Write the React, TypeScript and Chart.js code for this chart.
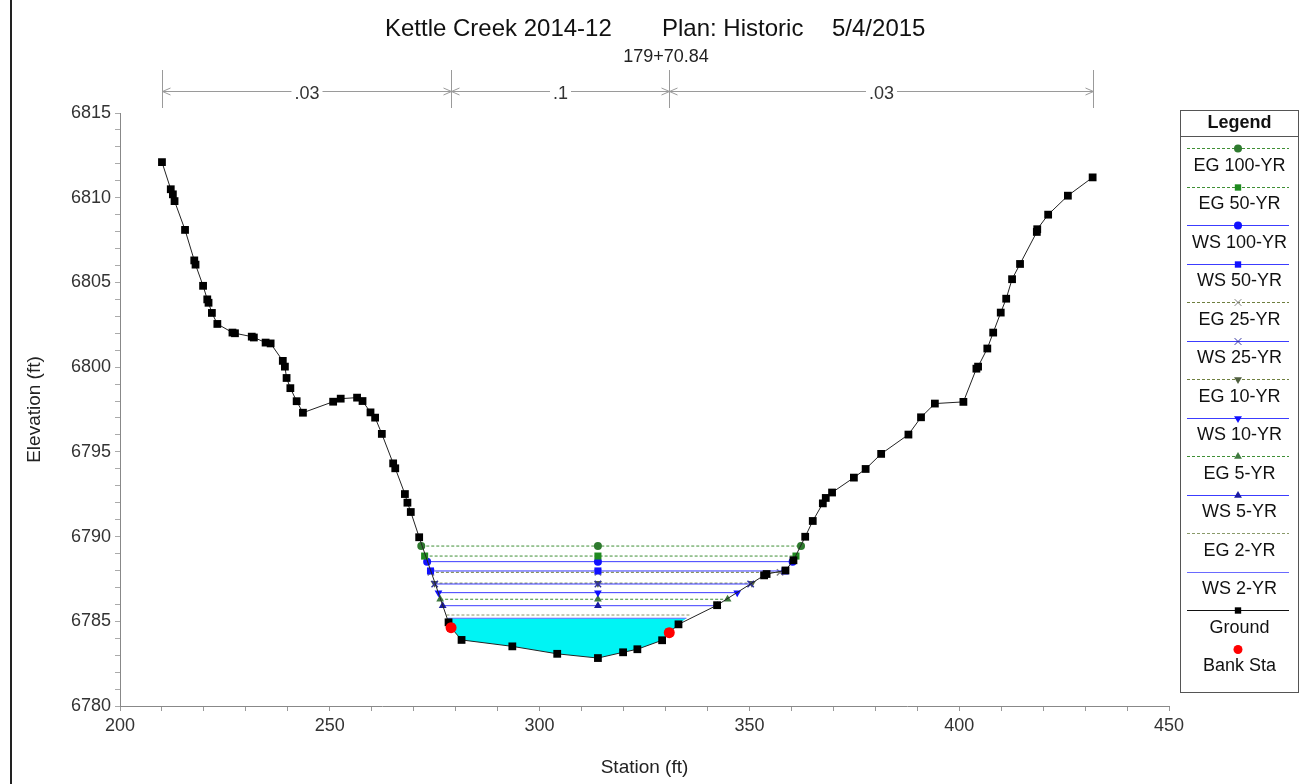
import React, { useEffect, useRef } from 'react';
import { Chart, registerables } from 'chart.js';

Chart.register(...registerables);

// ---------------- DATA ----------------
const groundStation = [
  210.0, 212.1, 212.6, 213.0, 215.5, 217.7, 218.0, 219.8, 220.8, 221.1, 221.9, 223.2,
  226.8, 227.4, 231.4, 231.9, 234.7, 235.9, 238.8, 239.3, 239.7, 240.6, 242.1, 243.6,
  250.8, 252.6, 256.5, 257.8, 259.7, 260.8, 262.4, 265.1, 265.6, 267.9, 268.5, 269.3,
  271.3, 278.3, 278.9, 281.4, 293.5, 304.2, 313.9, 319.9, 323.3, 329.2, 330.9, 333.1,
  342.3, 353.5, 354.1, 358.6, 360.5, 363.3, 365.1, 367.5, 368.2, 369.7, 374.9, 377.7,
  381.4, 387.9, 390.9, 394.2, 401.0, 404.1, 404.5, 406.7, 408.1, 409.9, 411.2, 412.6,
  414.5, 418.5, 418.6, 421.2, 425.9, 431.8,
];
const groundElev = [
  6812.1, 6810.5, 6810.2, 6809.8, 6808.1, 6806.3, 6806.05, 6804.8, 6804.0, 6803.8, 6803.2, 6802.55,
  6802.04, 6802.0, 6801.8, 6801.75, 6801.45, 6801.4, 6800.37, 6800.03, 6799.36, 6798.76, 6797.99, 6797.31,
  6797.96, 6798.14, 6798.2, 6798.0, 6797.33, 6797.02, 6796.06, 6794.32, 6794.03, 6792.51, 6792.0, 6791.45,
  6789.96, 6784.94, 6784.62, 6783.9, 6783.52, 6783.08, 6782.83, 6783.17, 6783.35, 6783.88, 6784.33, 6784.82,
  6785.95, 6787.71, 6787.79, 6788.0, 6788.6, 6789.99, 6790.92, 6791.96, 6792.28, 6792.6, 6793.48, 6793.99,
  6794.88, 6796.02, 6797.04, 6797.85, 6797.95, 6799.91, 6800.03, 6801.1, 6802.04, 6803.22, 6804.04, 6805.19,
  6806.09, 6807.98, 6808.14, 6809.0, 6810.12, 6811.2,
];
const bankStation = [278.9, 330.9];
const bankElev = [6784.62, 6784.33];

const profileNames = [
  'EG 100-YR', 'EG 50-YR', 'WS 100-YR', 'WS 50-YR', 'EG 25-YR', 'WS 25-YR',
  'EG 10-YR', 'WS 10-YR', 'EG 5-YR', 'WS 5-YR', 'EG 2-YR', 'WS 2-YR',
];
const profileElev = [6789.44, 6788.85, 6788.52, 6787.97, 6787.89, 6787.2, 6787.25, 6786.69, 6786.3, 6785.92, 6785.37, 6785.18];
const profileLeft = [271.8, 272.6, 273.2, 274.0, 274.1, 275.0, 274.95, 275.9, 276.3, 276.9, 277.8, 278.2];
const profileRight = [362.3, 361.1, 360.3, 358.5, 357.3, 350.3, 350.6, 347.1, 344.8, 342.4, 336.2, 335.0];
const centerStation = 313.9;

const manningValues = ['.03', '.1', '.03'];
const manningBreaks = [210.0, 278.9, 330.9, 431.8];

const titleParts = ['Kettle Creek 2014-12', 'Plan: Historic', '5/4/2015'];
const riverStationLabel = '179+70.84';
const xAxisTitle = 'Station (ft)';
const yAxisTitle = 'Elevation (ft)';
const legendTitle = 'Legend';

// ---------------- STYLES ----------------
const FONT = '"Liberation Sans", Arial, sans-serif';
const EG_COLOR = '#3f8f35';
const WS_COLOR = '#3c3cff';

type Sty = { dashed: boolean; color: string; marker: string | null; mColor: string; rot: number; r: number };
const profileStyles: Sty[] = [
  { dashed: true, color: EG_COLOR, marker: 'circle', mColor: '#2e7a2e', rot: 0, r: 4 },
  { dashed: true, color: EG_COLOR, marker: 'rect', mColor: '#1f8a1f', rot: 0, r: 5 },
  { dashed: false, color: WS_COLOR, marker: 'circle', mColor: '#1010ff', rot: 0, r: 4 },
  { dashed: false, color: WS_COLOR, marker: 'rect', mColor: '#1010ff', rot: 0, r: 5 },
  { dashed: true, color: '#6f7f3f', marker: 'crossRot', mColor: '#808080', rot: 0, r: 4.5 },
  { dashed: false, color: WS_COLOR, marker: 'crossRot', mColor: '#3030a0', rot: 0, r: 4.5 },
  { dashed: true, color: '#6f7f3f', marker: 'triangle', mColor: '#4f5f3f', rot: 180, r: 4.5 },
  { dashed: false, color: WS_COLOR, marker: 'triangle', mColor: '#1010ff', rot: 180, r: 4.5 },
  { dashed: true, color: EG_COLOR, marker: 'triangle', mColor: '#3f7a3f', rot: 0, r: 4.5 },
  { dashed: false, color: WS_COLOR, marker: 'triangle', mColor: '#1a1aa0', rot: 0, r: 4.5 },
  { dashed: true, color: '#8a9a6a', marker: null, mColor: '#8a9a6a', rot: 0, r: 0 },
  { dashed: false, color: '#6a6aff', marker: null, mColor: '#6a6aff', rot: 0, r: 0 },
];

function drawMarker(ctx: CanvasRenderingContext2D, style: string, x: number, y: number, r: number, color: string, rot: number) {
  ctx.save();
  ctx.fillStyle = color;
  ctx.strokeStyle = color;
  ctx.lineWidth = 1;
  ctx.beginPath();
  if (style === 'circle') {
    ctx.arc(x, y, r, 0, Math.PI * 2);
    ctx.fill();
  } else if (style === 'rect') {
    const s = Math.SQRT1_2 * r;
    ctx.fillRect(x - s, y - s, 2 * s, 2 * s);
  } else if (style === 'crossRot') {
    const s = r * 0.75;
    ctx.moveTo(x - s, y - s); ctx.lineTo(x + s, y + s);
    ctx.moveTo(x + s, y - s); ctx.lineTo(x - s, y + s);
    ctx.stroke();
  } else if (style === 'triangle') {
    const d = rot === 180 ? -1 : 1;
    ctx.moveTo(x, y - d * r);
    ctx.lineTo(x + r * 0.87, y + d * r * 0.5);
    ctx.lineTo(x - r * 0.87, y + d * r * 0.5);
    ctx.closePath();
    ctx.fill();
  }
  ctx.restore();
}

const overlayPlugin = {
  id: 'overlay',
  afterDraw(chart: any) {
    const ctx: CanvasRenderingContext2D = chart.ctx;
    const xs = chart.scales.x;
    const area = chart.chartArea;
    ctx.save();

    // outer frame left edge
    ctx.strokeStyle = '#222';
    ctx.lineWidth = 2;
    ctx.beginPath();
    ctx.moveTo(11, 0);
    ctx.lineTo(11, 784);
    ctx.stroke();

    // title
    ctx.fillStyle = '#111';
    ctx.font = `24px ${FONT}`;
    ctx.textBaseline = 'middle';
    ctx.textAlign = 'left';
    const titleX = [385, 662, 832];
    titleParts.forEach((t, i) => ctx.fillText(t, titleX[i], 29));

    // river station
    ctx.font = `18px ${FONT}`;
    ctx.textAlign = 'center';
    ctx.fillStyle = '#222';
    ctx.fillText(riverStationLabel, 666, 57);

    // Manning's n bar
    const yBar = 91;
    ctx.strokeStyle = '#9a9a9a';
    ctx.lineWidth = 1;
    const px = manningBreaks.map((s) => Math.round(xs.getPixelForValue(s)) + 0.5);
    px.forEach((p) => {
      ctx.beginPath();
      ctx.moveTo(p, 70);
      ctx.lineTo(p, 108);
      ctx.stroke();
    });
    ctx.font = `18px ${FONT}`;
    for (let i = 0; i < manningValues.length; i++) {
      const a = px[i], b = px[i + 1];
      const mid = (a + b) / 2;
      const tw = ctx.measureText(manningValues[i]).width;
      ctx.strokeStyle = '#9a9a9a';
      ctx.beginPath();
      ctx.moveTo(a, yBar + 0.5); ctx.lineTo(mid - tw / 2 - 3, yBar + 0.5);
      ctx.moveTo(mid + tw / 2 + 3, yBar + 0.5); ctx.lineTo(b, yBar + 0.5);
      ctx.moveTo(a + 8, yBar - 3); ctx.lineTo(a, yBar + 0.5); ctx.lineTo(a + 8, yBar + 4);
      ctx.moveTo(b - 8, yBar - 3); ctx.lineTo(b, yBar + 0.5); ctx.lineTo(b - 8, yBar + 4);
      ctx.stroke();
      ctx.fillStyle = '#333';
      ctx.fillText(manningValues[i], mid, yBar + 3);
    }

    // axis titles
    ctx.fillStyle = '#222';
    ctx.font = `19px ${FONT}`;
    ctx.textAlign = 'center';
    ctx.fillText(xAxisTitle, (area.left + area.right) / 2, 768);
    ctx.save();
    ctx.translate(35, (area.top + area.bottom) / 2);
    ctx.rotate(-Math.PI / 2);
    ctx.fillText(yAxisTitle, 0, 0);
    ctx.restore();

    // legend box
    const lx = 1180.5, ly = 110.5, lw = 118, lh = 582;
    ctx.strokeStyle = '#555';
    ctx.lineWidth = 1;
    ctx.strokeRect(lx, ly, lw, lh);
    ctx.beginPath();
    ctx.moveTo(lx, 136.5); ctx.lineTo(lx + lw, 136.5);
    ctx.stroke();
    ctx.fillStyle = '#111';
    ctx.font = `bold 18px ${FONT}`;
    ctx.fillText(legendTitle, lx + lw / 2, 123);

    const entries = profileNames.map((n, i) => ({ name: n, sty: profileStyles[i] }));
    const all: { name: string; sty: Sty; noLine?: boolean }[] = [
      ...entries,
      { name: 'Ground', sty: { dashed: false, color: '#111', marker: 'rect', mColor: '#000', rot: 0, r: 5.5 } },
      { name: 'Bank Sta', sty: { dashed: false, color: '#f00', marker: 'circle', mColor: '#ff0000', rot: 0, r: 5.5 }, noLine: true },
    ];
    const mx = 1238;
    all.forEach((e, i) => {
      const y = 148 + i * 38.5;
      if (!e.noLine) {
        ctx.save();
        ctx.strokeStyle = e.sty.color;
        ctx.lineWidth = 1;
        if (e.sty.dashed) ctx.setLineDash([3, 2]);
        ctx.beginPath();
        ctx.moveTo(1187, Math.round(y) + 0.5);
        ctx.lineTo(1289, Math.round(y) + 0.5);
        ctx.stroke();
        ctx.restore();
      }
      if (e.sty.marker) drawMarker(ctx, e.sty.marker, mx, Math.round(y) + 0.5, Math.min(e.sty.r, 4.5), e.sty.mColor, e.sty.rot);
      ctx.fillStyle = '#111';
      ctx.font = `18px ${FONT}`;
      ctx.textAlign = 'center';
      ctx.fillText(e.name, lx + lw / 2, y + 18);
    });

    ctx.restore();
  },
};

export default function App() {
  const ref = useRef<HTMLCanvasElement | null>(null);

  useEffect(() => {
    if (!ref.current) return;
    const ground = groundStation.map((x, i) => ({ x, y: groundElev[i] }));
    const banks = bankStation.map((x, i) => ({ x, y: bankElev[i] }));

    const wi = profileNames.length - 1;
    const wsEl = profileElev[wi];
    const water = [
      { x: profileLeft[wi], y: wsEl },
      ...ground.filter((p) => p.x > profileLeft[wi] && p.x < profileRight[wi]),
      { x: profileRight[wi], y: wsEl },
    ];

    const profileSets = profileNames.map((name, i) => {
      const s = profileStyles[i];
      return {
        label: name,
        data: [
          { x: profileLeft[i], y: profileElev[i] },
          { x: centerStation, y: profileElev[i] },
          { x: profileRight[i], y: profileElev[i] },
        ],
        borderColor: s.color,
        borderWidth: 1,
        borderDash: s.dashed ? [3, 2] : [],
        pointStyle: s.marker || 'circle',
        pointRadius: s.marker ? s.r : 0,
        pointRotation: s.rot,
        pointBackgroundColor: s.mColor,
        pointBorderColor: s.mColor,
        pointBorderWidth: s.marker === 'crossRot' ? 1.4 : 0,
        fill: false,
        order: 20 + i,
      };
    });

    const chart = new Chart(ref.current, {
      type: 'line',
      data: {
        datasets: [
          {
            label: 'water',
            data: water,
            borderWidth: 0,
            borderColor: 'rgba(0,0,0,0)',
            backgroundColor: '#00f4f4',
            pointRadius: 0,
            fill: 'shape',
            order: 100,
          } as any,
          ...profileSets,
          {
            label: 'Ground',
            data: ground,
            borderColor: '#222',
            borderWidth: 1,
            pointStyle: 'rect',
            pointRadius: 5.5,
            pointBackgroundColor: '#000',
            pointBorderColor: '#000',
            pointBorderWidth: 0,
            fill: false,
            order: 5,
          },
          {
            label: 'Bank Sta',
            data: banks,
            showLine: false,
            pointStyle: 'circle',
            pointRadius: 5.5,
            pointBackgroundColor: '#ff0000',
            pointBorderColor: '#ff0000',
            pointBorderWidth: 0,
            order: 1,
          },
        ],
      },
      options: {
        animation: false,
        responsive: false,
        devicePixelRatio: 1,
        layout: { padding: { left: 0, right: 132, top: 113, bottom: 0 } },
        plugins: { legend: { display: false }, tooltip: { enabled: false }, title: { display: false } },
        elements: { line: { tension: 0 } },
        scales: {
          x: {
            type: 'linear',
            min: 200,
            max: 450,
            afterFit: (s: any) => { s.height = 78; },
            grid: { display: true, drawOnChartArea: false, drawTicks: true, tickLength: 5, tickColor: '#999' },
            border: { display: true, color: '#888', width: 1 },
            ticks: {
              stepSize: 10,
              autoSkip: false,
              maxRotation: 0,
              maxTicksLimit: 100,
              padding: 4,
              color: '#333',
              font: { family: FONT, size: 18 },
              callback: (v: any) => (Math.round(v) % 50 === 0 ? String(Math.round(v)) : ''),
            },
          },
          y: {
            type: 'linear',
            min: 6780,
            max: 6815,
            afterFit: (s: any) => { s.width = 120; },
            grid: { display: true, drawOnChartArea: false, drawTicks: true, tickLength: 5, tickColor: '#aaa' },
            border: { display: true, color: '#888', width: 1 },
            ticks: {
              stepSize: 1,
              autoSkip: false,
              maxTicksLimit: 100,
              padding: 4,
              color: '#333',
              font: { family: FONT, size: 18 },
              callback: (v: any) => (Math.round(v) % 5 === 0 ? String(Math.round(v)) : ''),
            },
          },
        },
      },
      plugins: [overlayPlugin],
    } as any);

    return () => chart.destroy();
  }, []);

  return (
    <div style={{ position: 'fixed', left: 0, top: 0, width: 1301, height: 784, background: '#fff' }}>
      <canvas ref={ref} width={1301} height={784} style={{ width: 1301, height: 784, display: 'block' }} />
    </div>
  );
}
